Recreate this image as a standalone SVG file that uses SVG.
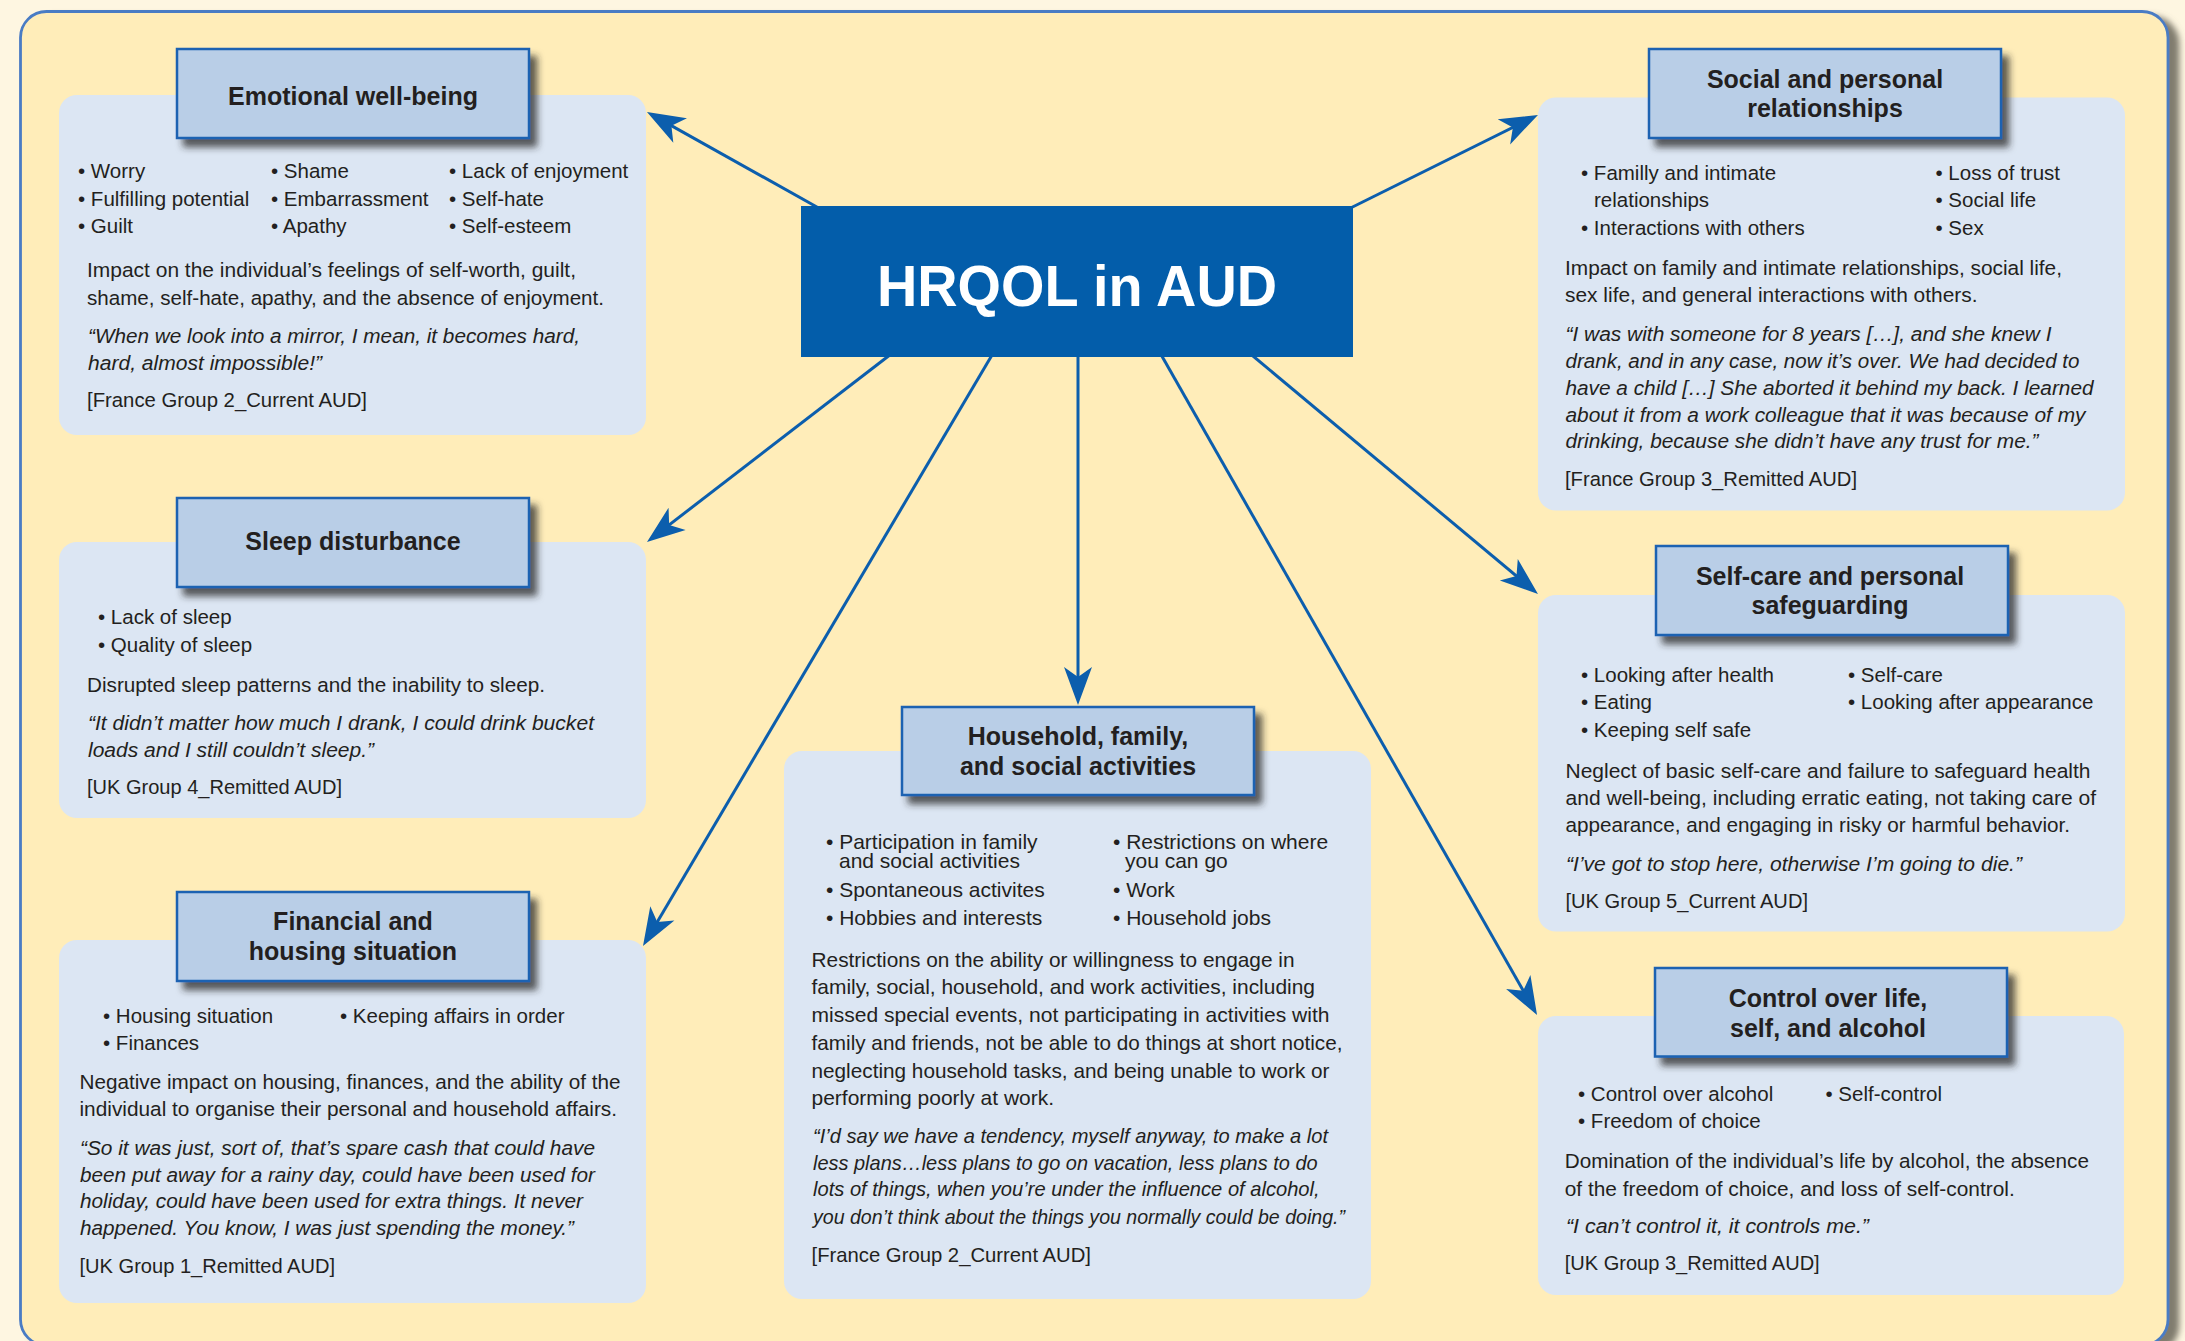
<svg xmlns="http://www.w3.org/2000/svg" width="2185" height="1341" viewBox="0 0 2185 1341">
<style>
.t{font-family:"Liberation Sans",Arial,"Helvetica",sans-serif;fill:#231F20}
.h{font-size:25px;font-weight:bold;text-anchor:middle}
.b{font-size:20.5px}
.q{font-size:20.5px;font-style:italic}
.w{font-size:21px}
.body{fill:#DCE6F3}
.head{fill:#B9CEE7;stroke:#1A62B2;stroke-width:2.5}
.conn{stroke:#0C5EAD;stroke-width:3;fill:none}
</style>
<defs>
<filter id="sh" x="-10%" y="-10%" width="130%" height="140%">
<feDropShadow dx="7" dy="8" stdDeviation="3.5" flood-color="#2b2b2b" flood-opacity="0.75"/>
</filter>
<filter id="fsh" x="-2%" y="-2%" width="104%" height="104%">
<feDropShadow dx="10" dy="6" stdDeviation="3" flood-color="#6b665a" flood-opacity="0.85"/>
</filter>
<marker id="arr" markerUnits="userSpaceOnUse" orient="auto" viewBox="-30 -16 42 32" markerWidth="42" markerHeight="32" refX="0" refY="0">
<path d="M10,0 L-28,-14 L-18,0 L-28,14 Z" fill="#0C5EAD"/>
</marker>
</defs>
<rect x="0" y="0" width="2185" height="1341" fill="#FEF6E1"/>
<rect x="20.5" y="11.5" width="2147.5" height="1334" rx="26" fill="#FFEDB9" stroke="#4A7BC4" stroke-width="2.8" filter="url(#fsh)"/>

<g id="emotional">
<rect class="body" x="59" y="95" width="587" height="340" rx="18"/>
<rect class="head" x="177" y="49" width="352" height="89" filter="url(#sh)"/>
<text class="t h" x="353" y="105">Emotional well-being</text>
<text class="t b" x="78" y="178">• Worry</text>
<text class="t b" x="78" y="206">• Fulfilling potential</text>
<text class="t b" x="78" y="233">• Guilt</text>
<text class="t b" x="271" y="178">• Shame</text>
<text class="t b" x="271" y="206">• Embarrassment</text>
<text class="t b" x="271" y="233">• Apathy</text>
<text class="t b" x="449" y="178">• Lack of enjoyment</text>
<text class="t b" x="449" y="206">• Self-hate</text>
<text class="t b" x="449" y="233">• Self-esteem</text>
<text class="t b" x="87" y="277" textLength="489" lengthAdjust="spacingAndGlyphs">Impact on the individual’s feelings of self-worth, guilt,</text>
<text class="t b" x="87" y="305" textLength="517" lengthAdjust="spacingAndGlyphs">shame, self-hate, apathy, and the absence of enjoyment.</text>
<text class="t q" x="88" y="343" textLength="492" lengthAdjust="spacingAndGlyphs">“When we look into a mirror, I mean, it becomes hard,</text>
<text class="t q" x="88" y="370" textLength="234" lengthAdjust="spacingAndGlyphs">hard, almost impossible!”</text>
<text class="t b" x="87" y="407" textLength="280" lengthAdjust="spacingAndGlyphs">[France Group 2_Current AUD]</text>
</g>

<g id="sleep">
<rect class="body" x="59" y="542" width="587" height="276" rx="18"/>
<rect class="head" x="177" y="498" width="352" height="89" filter="url(#sh)"/>
<text class="t h" x="353" y="550">Sleep disturbance</text>
<text class="t b" x="98" y="624">• Lack of sleep</text>
<text class="t b" x="98" y="652">• Quality of sleep</text>
<text class="t b" x="87" y="692" textLength="458" lengthAdjust="spacingAndGlyphs">Disrupted sleep patterns and the inability to sleep.</text>
<text class="t q" x="88" y="730" textLength="506" lengthAdjust="spacingAndGlyphs">“It didn’t matter how much I drank, I could drink bucket</text>
<text class="t q" x="88" y="757" textLength="286" lengthAdjust="spacingAndGlyphs">loads and I still couldn’t sleep.”</text>
<text class="t b" x="87" y="794" textLength="255" lengthAdjust="spacingAndGlyphs">[UK Group 4_Remitted AUD]</text>
</g>

<g id="financial">
<rect class="body" x="59" y="940" width="587" height="363" rx="18"/>
<rect class="head" x="177" y="892" width="352" height="89" filter="url(#sh)"/>
<text class="t h" x="353" y="930">Financial and</text>
<text class="t h" x="353" y="960">housing situation</text>
<text class="t b" x="103" y="1023">• Housing situation</text>
<text class="t b" x="103" y="1050">• Finances</text>
<text class="t b" x="340" y="1023">• Keeping affairs in order</text>
<text class="t b" x="79.5" y="1089" textLength="541" lengthAdjust="spacingAndGlyphs">Negative impact on housing, finances, and the ability of the</text>
<text class="t b" x="79.5" y="1116" textLength="537.5" lengthAdjust="spacingAndGlyphs">individual to organise their personal and household affairs.</text>
<text class="t q" x="80" y="1155" textLength="515" lengthAdjust="spacingAndGlyphs">“So it was just, sort of, that’s spare cash that could have</text>
<text class="t q" x="80" y="1182" textLength="515" lengthAdjust="spacingAndGlyphs">been put away for a rainy day, could have been used for</text>
<text class="t q" x="80" y="1208" textLength="503" lengthAdjust="spacingAndGlyphs">holiday, could have been used for extra things. It never</text>
<text class="t q" x="80" y="1235" textLength="494" lengthAdjust="spacingAndGlyphs">happened. You know, I was just spending the money.”</text>
<text class="t b" x="79.5" y="1273" textLength="255.5" lengthAdjust="spacingAndGlyphs">[UK Group 1_Remitted AUD]</text>
</g>

<g id="household">
<rect class="body" x="784" y="751" width="587" height="548" rx="18"/>
<rect class="head" x="902" y="707" width="352" height="88" filter="url(#sh)"/>
<text class="t h" x="1078" y="745">Household, family,</text>
<text class="t h" x="1078" y="775">and social activities</text>
<text class="t w" x="826" y="849">• Participation in family</text>
<text class="t w" x="839" y="868">and social activities</text>
<text class="t w" x="826" y="897">• Spontaneous activites</text>
<text class="t w" x="826" y="924.5">• Hobbies and interests</text>
<text class="t w" x="1113" y="849">• Restrictions on where</text>
<text class="t w" x="1125" y="868">you can go</text>
<text class="t w" x="1113" y="897">• Work</text>
<text class="t w" x="1113" y="924.5">• Household jobs</text>
<text class="t w" x="811.5" y="966.7" textLength="483" lengthAdjust="spacingAndGlyphs">Restrictions on the ability or willingness to engage in</text>
<text class="t w" x="811.5" y="994" textLength="503.5" lengthAdjust="spacingAndGlyphs">family, social, household, and work activities, including</text>
<text class="t w" x="811.5" y="1021.5" textLength="518" lengthAdjust="spacingAndGlyphs">missed special events, not participating in activities with</text>
<text class="t w" x="811.5" y="1049.7" textLength="531" lengthAdjust="spacingAndGlyphs">family and friends, not be able to do things at short notice,</text>
<text class="t w" x="811.5" y="1077.5" textLength="518" lengthAdjust="spacingAndGlyphs">neglecting household tasks, and being unable to work or</text>
<text class="t w" x="811.5" y="1104.5" textLength="242.5" lengthAdjust="spacingAndGlyphs">performing poorly at work.</text>
<text class="t w" x="813" y="1143" font-style="italic" textLength="515" lengthAdjust="spacingAndGlyphs">“I’d say we have a tendency, myself anyway, to make a lot</text>
<text class="t w" x="813" y="1170" font-style="italic" textLength="504.6" lengthAdjust="spacingAndGlyphs">less plans…less plans to go on vacation, less plans to do</text>
<text class="t w" x="813" y="1196.4" font-style="italic" textLength="506.6" lengthAdjust="spacingAndGlyphs">lots of things, when you’re under the influence of alcohol,</text>
<text class="t w" x="813" y="1223.8" font-style="italic" textLength="532" lengthAdjust="spacingAndGlyphs">you don’t think about the things you normally could be doing.”</text>
<text class="t w" x="811.5" y="1261.8" textLength="279.5" lengthAdjust="spacingAndGlyphs">[France Group 2_Current AUD]</text>
</g>

<g id="social">
<rect class="body" x="1538" y="97.5" width="587" height="413" rx="18"/>
<rect class="head" x="1649" y="49" width="352" height="89" filter="url(#sh)"/>
<text class="t h" x="1825" y="88">Social and personal</text>
<text class="t h" x="1825" y="117">relationships</text>
<text class="t b" x="1581" y="180">• Familly and intimate</text>
<text class="t b" x="1594" y="207">relationships</text>
<text class="t b" x="1581" y="235">• Interactions with others</text>
<text class="t b" x="1935.5" y="180">• Loss of trust</text>
<text class="t b" x="1935.5" y="207">• Social life</text>
<text class="t b" x="1935.5" y="235">• Sex</text>
<text class="t b" x="1565" y="275" textLength="497" lengthAdjust="spacingAndGlyphs">Impact on family and intimate relationships, social life,</text>
<text class="t b" x="1565" y="302" textLength="412.5" lengthAdjust="spacingAndGlyphs">sex life, and general interactions with others.</text>
<text class="t q" x="1565.5" y="341" textLength="486" lengthAdjust="spacingAndGlyphs">“I was with someone for 8 years […], and she knew I</text>
<text class="t q" x="1565.5" y="368" textLength="514" lengthAdjust="spacingAndGlyphs">drank, and in any case, now it’s over. We had decided to</text>
<text class="t q" x="1565.5" y="395" textLength="528" lengthAdjust="spacingAndGlyphs">have a child […] She aborted it behind my back. I learned</text>
<text class="t q" x="1565.5" y="422" textLength="520" lengthAdjust="spacingAndGlyphs">about it from a work colleague that it was because of my</text>
<text class="t q" x="1565.5" y="448" textLength="473" lengthAdjust="spacingAndGlyphs">drinking, because she didn’t have any trust for me.”</text>
<text class="t b" x="1565" y="486" textLength="292" lengthAdjust="spacingAndGlyphs">[France Group 3_Remitted AUD]</text>
</g>

<g id="selfcare">
<rect class="body" x="1538" y="595" width="587" height="336.5" rx="18"/>
<rect class="head" x="1656" y="546" width="352" height="89" filter="url(#sh)"/>
<text class="t h" x="1830" y="585">Self-care and personal</text>
<text class="t h" x="1830" y="614">safeguarding</text>
<text class="t b" x="1581" y="681.7">• Looking after health</text>
<text class="t b" x="1581" y="709">• Eating</text>
<text class="t b" x="1581" y="736.7">• Keeping self safe</text>
<text class="t b" x="1848" y="681.7">• Self-care</text>
<text class="t b" x="1848" y="709">• Looking after appearance</text>
<text class="t b" x="1565.5" y="778.3" textLength="525" lengthAdjust="spacingAndGlyphs">Neglect of basic self-care and failure to safeguard health</text>
<text class="t b" x="1565.5" y="805" textLength="530.5" lengthAdjust="spacingAndGlyphs">and well-being, including erratic eating, not taking care of</text>
<text class="t b" x="1565.5" y="832.3" textLength="504.5" lengthAdjust="spacingAndGlyphs">appearance, and engaging in risky or harmful behavior.</text>
<text class="t q" x="1566" y="870.7" textLength="456" lengthAdjust="spacingAndGlyphs">“I’ve got to stop here, otherwise I’m going to die.”</text>
<text class="t b" x="1565.5" y="908.3" textLength="242.5" lengthAdjust="spacingAndGlyphs">[UK Group 5_Current AUD]</text>
</g>

<g id="control">
<rect class="body" x="1538" y="1016" width="586" height="279" rx="18"/>
<rect class="head" x="1655" y="968" width="352" height="88.5" filter="url(#sh)"/>
<text class="t h" x="1828" y="1006.7">Control over life,</text>
<text class="t h" x="1828" y="1036.7">self, and alcohol</text>
<text class="t b" x="1578" y="1100.7">• Control over alcohol</text>
<text class="t b" x="1578" y="1127.7">• Freedom of choice</text>
<text class="t b" x="1825.5" y="1100.7">• Self-control</text>
<text class="t b" x="1564.7" y="1167.7" textLength="524.3" lengthAdjust="spacingAndGlyphs">Domination of the individual’s life by alcohol, the absence</text>
<text class="t b" x="1564.7" y="1195.7" textLength="450" lengthAdjust="spacingAndGlyphs">of the freedom of choice, and loss of self-control.</text>
<text class="t q" x="1566" y="1233.3" textLength="303" lengthAdjust="spacingAndGlyphs">“I can’t control it, it controls me.”</text>
<text class="t b" x="1564.7" y="1270" textLength="255" lengthAdjust="spacingAndGlyphs">[UK Group 3_Remitted AUD]</text>
</g>

<g id="connectors">
<line class="conn" x1="824" y1="211" x2="655.7" y2="116.9" marker-end="url(#arr)"/>
<line class="conn" x1="1342.5" y1="212" x2="1529" y2="119.4" marker-end="url(#arr)"/>
<line class="conn" x1="895" y1="351" x2="654.9" y2="535.9" marker-end="url(#arr)"/>
<line class="conn" x1="995" y1="350" x2="648.1" y2="937.4" marker-end="url(#arr)"/>
<line class="conn" x1="1078" y1="350" x2="1078" y2="695" marker-end="url(#arr)"/>
<line class="conn" x1="1159" y1="351" x2="1532.1" y2="1006.3" marker-end="url(#arr)"/>
<line class="conn" x1="1247" y1="351" x2="1530.3" y2="587.6" marker-end="url(#arr)"/>
</g>

<g id="center">
<rect x="801" y="206" width="552" height="151" fill="#035DAA"/>
<text x="1077" y="306" text-anchor="middle" font-family="'Liberation Sans',Arial,sans-serif" font-weight="bold" font-size="57" fill="#FFFFFF" textLength="400" lengthAdjust="spacingAndGlyphs">HRQOL in AUD</text>
</g>
</svg>
